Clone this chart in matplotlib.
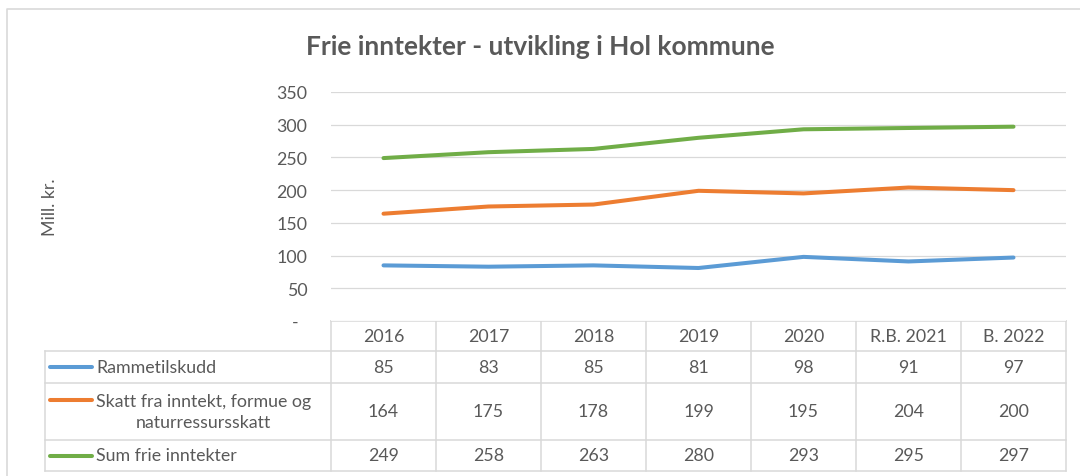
import matplotlib.pyplot as plt
import matplotlib.ticker as mtick

categories = ["2016", "2017", "2018", "2019", "2020", "R.B. 2021", "B. 2022"]
rammetilskudd = [85, 83, 85, 81, 98, 91, 97]
skatt = [164, 175, 178, 199, 195, 204, 200]
sum_frie = [249, 258, 263, 280, 293, 295, 297]
series_labels = [
    "Rammetilskudd",
    "Skatt fra inntekt, formue og\nnaturressursskatt",
    "Sum frie inntekter",
]
series_colors = ["#5b9bd5", "#ed7d31", "#70ad47"]
y_ticks = [0, 50, 100, 150, 200, 250, 300, 350]

plt.rcParams["font.family"] = ["Lato", "DejaVu Sans"]

W, H = 1080, 477
TEXT = "#595959"
GRID = "#d9d9d9"
FS = 12.8

# layout in pixels (Excel-like chart with data table)
plot_left, plot_right, plot_top, plot_bottom = 331, 1066, 93, 322
table_left = 45
row_edges = [322, 352, 384, 441, 472]
col_w = (plot_right - plot_left) / len(categories)

fig = plt.figure(figsize=(W / 100, H / 100), dpi=100)

# overlay axes in pixel coords for border, table and labels
tax = fig.add_axes([0, 0, 1, 1])
tax.set_xlim(0, W)
tax.set_ylim(H, 0)
tax.axis("off")

ax = fig.add_axes([
    plot_left / W,
    1 - plot_bottom / H,
    (plot_right - plot_left) / W,
    (plot_bottom - plot_top) / H,
])

series = [rammetilskudd, skatt, sum_frie]
x = list(range(len(categories)))
for vals, color in zip(series, series_colors):
    ax.plot(x, vals, color=color, linewidth=2.9, solid_capstyle="round", zorder=3)

ax.set_xlim(-0.5, len(categories) - 0.5)
ax.set_ylim(0, 350)
ax.set_xticks([])
ax.set_yticks(y_ticks)
ax.yaxis.set_major_formatter(mtick.FuncFormatter(lambda v, _: "-  " if v == 0 else f"{v:.0f}"))
ax.tick_params(axis="y", length=0, pad=17, labelsize=FS, labelcolor=TEXT)
ax.grid(True, axis="y", color=GRID, linewidth=0.9)
for s in ax.spines.values():
    s.set_visible(False)

# outer frame (only left and top visible in the crop)
tax.plot([7, 7, W], [H, 10, 10], color=GRID, linewidth=1.2)

# table grid
lw = 1.1
tax.plot([plot_left, plot_right], [row_edges[0]] * 2, color=GRID, linewidth=lw)
for yy in row_edges[1:]:
    tax.plot([table_left, plot_right], [yy, yy], color=GRID, linewidth=lw)
tax.plot([table_left, table_left], [row_edges[1], row_edges[-1]], color=GRID, linewidth=lw)
for k in range(len(categories) + 1):
    xx = plot_left + k * col_w
    tax.plot([xx, xx], [row_edges[0], row_edges[-1]], color=GRID, linewidth=lw)

# header row
hy = (row_edges[0] + row_edges[1]) / 2
for i, cat in enumerate(categories):
    tax.text(plot_left + (i + 0.5) * col_w, hy, cat, ha="center", va="center",
             fontsize=FS, color=TEXT)

# data rows
for r, (label, vals, color) in enumerate(zip(series_labels, series, series_colors)):
    cy = (row_edges[r + 1] + row_edges[r + 2]) / 2
    n_lines = label.count("\n") + 1
    key_y = cy - (n_lines - 1) * 12
    tax.plot([50, 92], [key_y, key_y], color=color, linewidth=2.9, solid_capstyle="round")
    tax.text(96, cy, label, ha="left", va="center", multialignment="center",
             fontsize=FS, color=TEXT, linespacing=1.45)
    for i, v in enumerate(vals):
        tax.text(plot_left + (i + 0.5) * col_w, cy, f"{v}", ha="center", va="center",
                 fontsize=FS, color=TEXT)

fig.text(0.5, 1 - 47 / H, "Frie inntekter - utvikling i Hol kommune", ha="center",
         va="center", fontsize=19, fontweight="bold", color=TEXT)
fig.text(50 / W, 1 - 207 / H, "Mill. kr.", rotation=90, ha="center", va="center",
         fontsize=FS, color=TEXT)

fig.savefig("out.png", dpi=100)
